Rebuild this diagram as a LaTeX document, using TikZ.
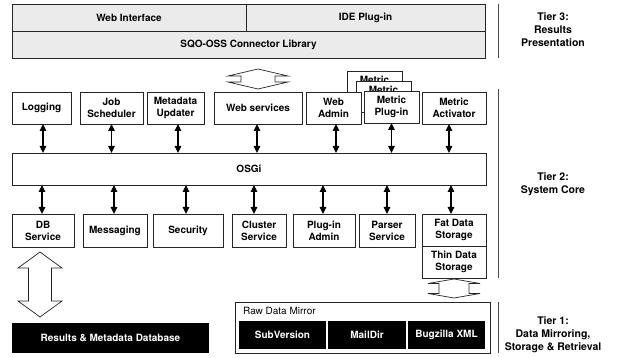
\documentclass[tikz,border=0pt]{standalone}
\usepackage{fontspec}
\setmainfont{TeX Gyre Heros}
\usetikzlibrary{arrows.meta}
\begin{document}
\begin{tikzpicture}[x=1pt,y=-1pt,
  box/.style={draw=black!85, line width=0.8pt, fill=white, font=\bfseries\fontsize{10}{12}\selectfont, align=center, inner sep=0pt, outer sep=0pt},
  gbox/.style={box, fill=black!8},
  blk/.style={fill=black, text=white, font=\bfseries\fontsize{10}{12}\selectfont, align=center, inner sep=0pt, outer sep=0pt},
  wh/.style 2 args={minimum width=#1pt, minimum height=#2pt},
  dar/.style={{Triangle[width=6.5pt,length=7pt]}-{Triangle[width=6.5pt,length=7pt]}, line width=1.1pt},
  harrow/.style={draw=black!85, line width=0.7pt, fill=white},
  tierline/.style={draw=black!70, line width=1pt},
  tier/.style={font=\bfseries\fontsize{10.5}{13}\selectfont, align=center}
]
\useasboundingbox (0,0) rectangle (621,358);
\newcommand\hollowarr[6]{%
 \draw[harrow] (#1,#2) -- (#1+#4,#2+#6) -- (#1+#5,#2+#6) -- (#1+#5,#3-#6) -- (#1+#4,#3-#6) -- (#1,#3) -- (#1-#4,#3-#6) -- (#1-#5,#3-#6) -- (#1-#5,#2+#6) -- (#1-#4,#2+#6) -- cycle;}

% Tier 3
\node[gbox, wh={234}{27}] (web) at (129,17.5) {Web Interface};
\node[gbox, wh={239}{27}] (ide) at (365.5,17.5) {IDE Plug-in};
\node[gbox, wh={473}{27}] (sqo) at (248.5,44.5) {SQO-OSS Connector Library};
\hollowarr{258}{69}{89}{30}{17}{7}

% metric stack (behind)
\node[box, wh={55}{41}] (mb1) at (374.5,91.5) {};
\node[font=\bfseries\fontsize{10}{12}\selectfont, inner sep=0] (mt1) at (374.5,80) {Metric};
\node[box, wh={55}{31}] (mb2) at (383.5,96.5) {};
\node[font=\bfseries\fontsize{10}{12}\selectfont, inner sep=0] (mt2) at (383.5,90) {Metric};

% Tier 2 top row
\node[box, wh={59}{32}] (log) at (41.5,108) {Logging};
\node[box, wh={63}{32}] (job) at (111.5,108) {Job\\Scheduler};
\node[box, wh={57}{32}] (meta) at (175.5,108) {Metadata\\Updater};
\node[box, wh={88}{32}] (ws) at (258,108) {Web services};
\node[box, wh={55}{32}] (wa) at (333.5,108) {Web\\Admin};
\node[box, wh={55}{32}] (mp) at (391.5,107) {Metric\\Plug-in};
\node[box, wh={64}{32}] (act) at (454,108) {Metric\\Activator};

\node[box, wh={474}{32}] (osgi) at (249,169) {OSGi};

% bottom row
\node[box, wh={62}{33}] (db) at (43,230.5) {DB\\Service};
\node[box, wh={64}{33}] (msg) at (115,230.5) {Messaging};
\node[box, wh={70}{33}] (sec) at (188,230.5) {Security};
\node[box, wh={54}{33}] (clu) at (259,230.5) {Cluster\\Service};
\node[box, wh={62}{33}] (pa) at (324,230.5) {Plug-in\\Admin};
\node[box, wh={56}{33}] (ps) at (387,230.5) {Parser\\Service};
\node[box, wh={64}{32}] (fat) at (454,230) {Fat Data\\Storage};
\node[box, wh={64}{32}] (thin) at (454,262) {Thin Data\\Storage};

% small arrows
\foreach \n/\s in {log/1.5, job/0, meta/2.5, ws/-1, wa/2.5, mp/0, act/-5}
  \draw[dar] ([xshift=\s pt]\n.south) -- ([xshift=\s pt]\n.south |- osgi.north);
\foreach \n/\s in {db/-1, msg/-1, sec/-2, clu/-5, pa/-1, ps/0, fat/-3}
  \draw[dar] ([xshift=\s pt]osgi.south -| \n.north) -- ([xshift=\s pt]\n.north);

% Tier 1
\hollowarr{40}{252}{317}{22}{11.5}{16}
\hollowarr{454}{279}{298}{26}{15}{4.5}
\node[blk, wh={197}{30}] (rdb) at (110.5,338) {Results \& Metadata Database};
\node[box, wh={255}{51}] (raw) at (362.5,327.5) {};
\node[anchor=base west, inner sep=0, font=\fontsize{10}{12}\selectfont] (rawl) at (243,314) {Raw Data Mirror};
\node[blk, wh={87}{28}] (svn) at (282.5,335) {SubVersion};
\node[blk, wh={78}{28}] (mail) at (367,335) {MailDir};
\node[blk, wh={77}{28}] (bug) at (446.5,335) {Bugzilla XML};

% tier lines and labels
\draw[tierline] (498,4) -- (498,58);
\draw[tierline] (498,89) -- (498,278);
\draw[tierline] (498,302) -- (498,353);
\node[tier] (t3) at (553,30) {Tier 3:\\Results\\Presentation};
\node[tier] (t2) at (553,184) {Tier 2:\\System Core};
\node[tier] (t1) at (553,334.5) {Tier 1:\\Data Mirroring,\\Storage \& Retrieval};
\end{tikzpicture}
\end{document}
